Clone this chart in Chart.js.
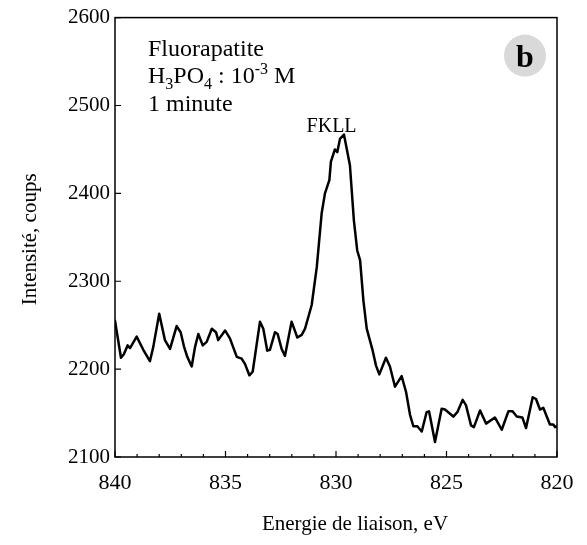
<!DOCTYPE html>
<html>
<head>
<meta charset="utf-8">
<title>FKLL - Fluorapatite</title>
<script src="https://cdn.jsdelivr.net/npm/chart.js@4/dist/chart.umd.min.js"></script>
<style>
  html, body { margin: 0; padding: 0; background: #fff; }
  #wrap { width: 587px; height: 545px; }
</style>
</head>
<body>
<div id="wrap"><canvas id="xpsChart" width="587" height="545"></canvas></div>
<script>
// Binding energy (eV) and intensity (counts)
const energy = [
  840.00, 839.73, 839.60, 839.43, 839.32, 839.02, 838.72, 838.42, 838.27, 838.00,
  837.74, 837.51, 837.21, 837.03, 836.88, 836.73, 836.53, 836.38, 836.23, 836.03,
  835.85, 835.62, 835.43, 835.33, 835.02, 834.80, 834.49, 834.27, 834.12, 833.92,
  833.77, 833.44, 833.29, 833.11, 832.99, 832.76, 832.64, 832.46, 832.31, 832.01,
  831.75, 831.55, 831.40, 831.10, 830.87, 830.65, 830.50, 830.30, 830.23, 830.05,
  829.94, 829.82, 829.64, 829.37, 829.19, 829.04, 828.91, 828.76, 828.61, 828.34,
  828.19, 828.04, 827.74, 827.56, 827.33, 827.03, 826.83, 826.65, 826.50, 826.32,
  826.12, 825.90, 825.79, 825.52, 825.22, 825.07, 824.69, 824.51, 824.27, 824.12,
  823.89, 823.76, 823.48, 823.21, 822.81, 822.50, 822.20, 822.01, 821.82, 821.57,
  821.40, 821.10, 820.95, 820.77, 820.62, 820.32, 820.17, 820.09, 820.00
];
const counts = [
  2255, 2213, 2217, 2227, 2224, 2237, 2222, 2209, 2225, 2263,
  2233, 2223, 2249, 2242, 2226, 2214, 2203, 2225, 2240, 2227,
  2231, 2246, 2242, 2233, 2244, 2235, 2214, 2212, 2206, 2193,
  2197, 2254, 2246, 2221, 2222, 2242, 2240, 2223, 2215, 2254,
  2236, 2239, 2246, 2273, 2316, 2377, 2400, 2415, 2436, 2450,
  2447, 2462, 2467, 2432, 2369, 2335, 2324, 2278, 2246, 2221,
  2204, 2194, 2213, 2203, 2180, 2192, 2174, 2148, 2135, 2135,
  2129, 2151, 2152, 2117, 2155, 2154, 2146, 2151, 2165, 2159,
  2136, 2134, 2153, 2138, 2145, 2131, 2152, 2152, 2146, 2145,
  2133, 2168, 2166, 2154, 2156, 2137, 2137, 2134, 2135
];

const xTicks = [840, 835, 830, 825, 820];
const xMinorTicks = [839, 838, 837, 836, 834, 833, 832, 831, 829, 828, 827, 826, 824, 823, 822, 821];
const yTicks = [2100, 2200, 2300, 2400, 2500, 2600];

const SERIF = '"Liberation Serif", "DejaVu Serif", serif';

// frame, inward ticks, axis titles and annotations
const decorPlugin = {
  id: 'decor',
  afterDraw(chart) {
    const ctx = chart.ctx;
    const area = chart.chartArea;
    const xs = chart.scales.x;
    const ys = chart.scales.y;
    ctx.save();

    // frame
    ctx.strokeStyle = '#000';
    ctx.lineWidth = 1.5;
    ctx.strokeRect(area.left, area.top, area.right - area.left, area.bottom - area.top);

    // x ticks pointing inward
    ctx.lineWidth = 1.2;
    ctx.beginPath();
    xTicks.forEach(v => {
      const px = xs.getPixelForValue(v);
      ctx.moveTo(px, area.bottom);
      ctx.lineTo(px, area.bottom - 6);
    });
    xMinorTicks.forEach(v => {
      const px = xs.getPixelForValue(v);
      ctx.moveTo(px, area.bottom);
      ctx.lineTo(px, area.bottom - 3);
    });
    yTicks.forEach(v => {
      const py = ys.getPixelForValue(v);
      ctx.moveTo(area.left, py);
      ctx.lineTo(area.left + 6, py);
    });
    ctx.stroke();

    // axis titles
    ctx.fillStyle = '#000';
    ctx.font = '21px ' + SERIF;
    ctx.textAlign = 'center';
    ctx.textBaseline = 'alphabetic';
    ctx.fillText('Energie de liaison, eV', 355, 530);

    ctx.save();
    ctx.translate(36, (area.top + area.bottom) / 2 + 2);
    ctx.rotate(-Math.PI / 2);
    ctx.fillText('Intensité, coups', 0, 0);
    ctx.restore();

    // sample description
    ctx.textAlign = 'left';
    const tx = area.left + 33;
    ctx.font = '24px ' + SERIF;
    ctx.fillText('Fluorapatite', tx, area.top + 38);

    const runs = [
      { t: 'H', size: 24, dy: 0 },
      { t: '3', size: 16, dy: 6 },
      { t: 'PO', size: 24, dy: 0 },
      { t: '4', size: 16, dy: 6 },
      { t: ' : 10', size: 24, dy: 0 },
      { t: '-3', size: 16, dy: -9 },
      { t: ' M', size: 24, dy: 0 }
    ];
    let cx = tx;
    const by = area.top + 65;
    runs.forEach(r => {
      ctx.font = r.size + 'px ' + SERIF;
      ctx.fillText(r.t, cx, by + r.dy);
      cx += ctx.measureText(r.t).width;
    });

    ctx.font = '24px ' + SERIF;
    ctx.fillText('1 minute', tx, area.top + 93);

    // peak label
    ctx.textAlign = 'center';
    ctx.font = '20px ' + SERIF;
    ctx.fillText('FKLL', xs.getPixelForValue(830.2), ys.getPixelForValue(2470));

    // panel badge
    ctx.fillStyle = '#d9d9d9';
    ctx.beginPath();
    ctx.arc(area.right - 32, area.top + 38, 21, 0, Math.PI * 2);
    ctx.fill();
    ctx.fillStyle = '#000';
    ctx.font = 'bold 32px ' + SERIF;
    ctx.fillText('b', area.right - 32, area.top + 49);

    ctx.restore();
  }
};

new Chart(document.getElementById('xpsChart'), {
  type: 'line',
  data: {
    datasets: [{
      data: energy.map((e, i) => ({ x: e, y: counts[i] })),
      borderColor: '#000',
      borderWidth: 2.5,
      borderJoinStyle: 'round',
      borderCapStyle: 'round',
      pointRadius: 0,
      tension: 0,
      fill: false
    }]
  },
  options: {
    responsive: false,
    animation: false,
    devicePixelRatio: 1,
    layout: { padding: { top: 17, right: 30, left: 0, bottom: 0 } },
    plugins: {
      legend: { display: false },
      tooltip: { enabled: false }
    },
    scales: {
      x: {
        type: 'linear',
        reverse: true,
        min: 820,
        max: 840,
        afterBuildTicks: scale => { scale.ticks = xTicks.map(v => ({ value: v })); },
        afterFit: scale => { scale.height = 88; },
        grid: { display: false, drawTicks: false },
        border: { display: false },
        ticks: {
          padding: 13,
          color: '#000',
          maxRotation: 0,
          font: { family: SERIF, size: 22 },
          callback: v => String(v)
        }
      },
      y: {
        min: 2100,
        max: 2600,
        afterBuildTicks: scale => { scale.ticks = yTicks.map(v => ({ value: v })); },
        afterFit: scale => { scale.width = 115; },
        grid: { display: false, drawTicks: false },
        border: { display: false },
        ticks: {
          padding: 5,
          color: '#000',
          font: { family: SERIF, size: 21 },
          callback: v => String(v)
        }
      }
    }
  },
  plugins: [decorPlugin]
});
</script>
</body>
</html>
